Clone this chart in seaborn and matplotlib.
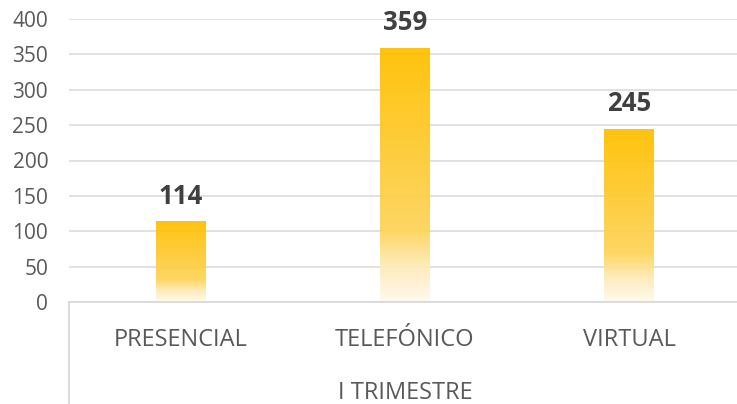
import numpy as np
import pandas as pd
import matplotlib
matplotlib.use('Agg')
import matplotlib.pyplot as plt
from matplotlib.colors import LinearSegmentedColormap
import seaborn as sns

# Dados do gráfico
categorias = ['PRESENCIAL', 'TELEFÓNICO', 'VIRTUAL']
valores = [114, 359, 245]
titulo_eixo = 'I TRIMESTRE'
ticks_y = [0, 50, 100, 150, 200, 250, 300, 350, 400]

dados = pd.DataFrame({'canal': categorias, 'total': valores})

# Estilo
sns.set_style('white')
plt.rcParams['font.family'] = ['Open Sans', 'DejaVu Sans']

cor_texto = '#595959'
cor_grade = '#D9D9D9'

fig = plt.figure(figsize=(7.37, 4.04), dpi=100)
ax = fig.add_axes([69 / 737, 102 / 404, 672 / 737, 283 / 404])

sns.barplot(data=dados, x='canal', y='total', color='#FFC000', width=0.223,
            ax=ax, zorder=2)

# Gradiente dourado -> branco dentro de cada barra
gradiente = LinearSegmentedColormap.from_list(
    'ouro', [(0.0, '#FFC000'), (0.72, '#FDD45C'), (0.86, '#FEEBB8'), (1.0, '#FFFAEE')])
faixa = np.linspace(0, 1, 256).reshape(-1, 1)
for barra in ax.patches:
    x, y = barra.get_x(), barra.get_y()
    w, h = barra.get_width(), barra.get_height()
    img = ax.imshow(faixa, cmap=gradiente, aspect='auto', origin='upper',
                    extent=[x, x + w, y, y + h], zorder=2, alpha=0.95)
    img.set_clip_path(barra)
    barra.set_facecolor('none')
    barra.set_edgecolor('none')

ax.set_xlim(-0.5, 2.5)
ax.set_ylim(0, 400)
ax.set_yticks(ticks_y)

# Rótulos de valor
ax.bar_label(ax.containers[0], labels=[str(v) for v in valores], padding=8.5,
             fontsize=18.5, fontweight='bold', color='#404040')

# Grade e eixos
ax.yaxis.grid(True, color=cor_grade, linewidth=1.1, zorder=0)
ax.set_axisbelow(True)
for lado in ['top', 'right', 'left']:
    ax.spines[lado].set_visible(False)
ax.spines['bottom'].set_color(cor_grade)
ax.spines['bottom'].set_linewidth(1.3)

ax.tick_params(axis='y', length=0, pad=15, labelsize=15, labelcolor=cor_texto)
ax.tick_params(axis='x', length=0, pad=19, labelsize=17, labelcolor=cor_texto)

ax.set_ylabel('')
ax.set_xlabel('')
# título do eixo x, logo acima da borda inferior
ax.text(0.5, -97 / 283, titulo_eixo, transform=ax.transAxes, ha='center',
        va='baseline', fontsize=17, color=cor_texto)

# Linha vertical de agrupamento abaixo do eixo
ax.plot([0, 0], [0, -0.5], transform=ax.transAxes, color=cor_grade,
        linewidth=1.3, clip_on=False)

fig.savefig('out.png', dpi=100)
